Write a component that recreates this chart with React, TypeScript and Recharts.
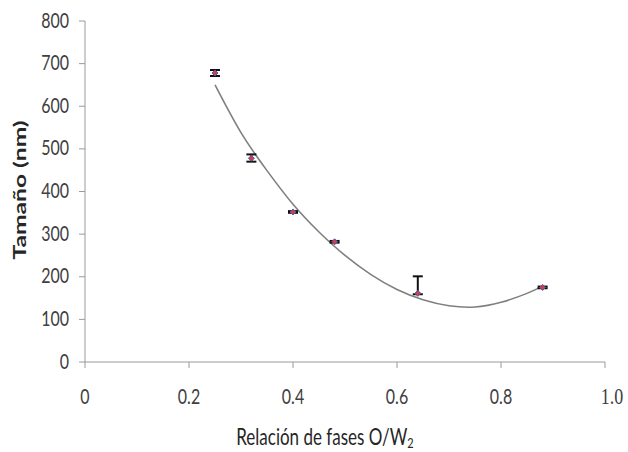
import React from 'react'
import { ComposedChart, Line, Scatter, ErrorBar, XAxis, YAxis, Label } from 'recharts'

// measured points (fase O/W vs tamaño) with error bars
const phaseRatio = [0.25, 0.32, 0.4, 0.48, 0.64, 0.88]
const sizeNm = [678, 478, 352, 282, 161, 175]
const errDown = [7, 8, 2, 2, 2, 2]
const errUp = [7, 9, 2, 2, 40, 2]

// trendline
const trendRatio = [0.25, 0.3, 0.35, 0.4, 0.45, 0.5, 0.55, 0.6, 0.65, 0.7, 0.75, 0.8, 0.85, 0.88]
const trendNm = [650, 538, 449, 370, 305, 250, 205, 170, 146, 132, 129, 140, 161, 178]

const xTicks = [0, 0.2, 0.4, 0.6, 0.8, 1]
const xTickLabels = ['0', '0.2', '0.4', '0.6', '0.8', '1.0']
const yTicks = [0, 100, 200, 300, 400, 500, 600, 700, 800]

const points = phaseRatio.map((x, i) => ({ x, y: sizeNm[i], err: [errDown[i], errUp[i]] }))
const trend = trendRatio.map((x, i) => ({ x, y: trendNm[i] }))

const FONT = 'Lato, "DejaVu Sans", sans-serif'
const AXIS = '#9a9a9a'
const TEXT = '#404040'
const STRETCH = 1.3

function XTick(props: any) {
  const { x, y, index } = props
  const label = xTickLabels[index] ?? String(props.payload.value)
  const last = label === '1.0'
  return (
    <g transform={`translate(${x + (last ? 7 : 0)},${y}) scale(1,${STRETCH})`}>
      <text
        x={0}
        y={0}
        textAnchor="middle"
        fill={TEXT}
        fontSize={last ? 18 : 16}
        fontFamily={last ? '"Liberation Serif", serif' : FONT}
      >
        {label}
      </text>
    </g>
  )
}

function YTick(props: any) {
  const { x, y, payload } = props
  return (
    <g transform={`translate(${x + 2},${y + 6.5}) scale(1,${STRETCH})`}>
      <text x={0} y={0} textAnchor="end" fill={TEXT} fontSize={16} fontFamily={FONT}>
        {payload.value}
      </text>
    </g>
  )
}

function Diamond(props: any) {
  const { cx, cy } = props
  const r = 3
  return (
    <path
      d={`M${cx},${cy - r} L${cx + r},${cy} L${cx},${cy + r} L${cx - r},${cy} Z`}
      fill="#d23a50"
      stroke="#4a5fa8"
      strokeWidth={1}
    />
  )
}

export default function App() {
  return (
    <div style={{ position: 'absolute', left: 0, top: 0, background: '#fff' }}>
      <ComposedChart width={628} height={452} margin={{ top: 21, right: 23, left: 0, bottom: 30 }}>
        <XAxis
          type="number"
          dataKey="x"
          domain={[0, 1]}
          ticks={xTicks}
          height={60}
          stroke={AXIS}
          tickSize={6}
          tickMargin={36}
          tick={XTick}
          allowDataOverflow
        >
          <Label
            content={() => (
              <g transform={`translate(325,445) scale(1,${STRETCH})`}>
                <text x={0} y={0} textAnchor="middle" fill="#262626" fontSize={17} fontFamily={FONT}>
                  Relación de fases O/W<tspan fontSize={11} dy={2.5}>2</tspan>
                </text>
              </g>
            )}
          />
        </XAxis>
        <YAxis
          type="number"
          dataKey="y"
          domain={[0, 800]}
          ticks={yTicks}
          width={85}
          stroke={AXIS}
          tickSize={6}
          tickMargin={12}
          tick={YTick}
        >
          <Label
            content={() => (
              <g transform="translate(26,190) rotate(-90) scale(1.45,1)">
                <text x={0} y={0} textAnchor="middle" fill="#262626" fontSize={17} fontWeight="bold" fontFamily={FONT}>
                  Tamaño (nm)
                </text>
              </g>
            )}
          />
        </YAxis>
        <Line
          data={trend}
          dataKey="y"
          type="natural"
          stroke="#808080"
          strokeWidth={1.6}
          dot={false}
          activeDot={false}
          isAnimationActive={false}
        />
        <Scatter data={points} dataKey="y" shape={Diamond} isAnimationActive={false}>
          <ErrorBar dataKey="err" direction="y" width={5} stroke="#111" strokeWidth={2} />
        </Scatter>
      </ComposedChart>
    </div>
  )
}
